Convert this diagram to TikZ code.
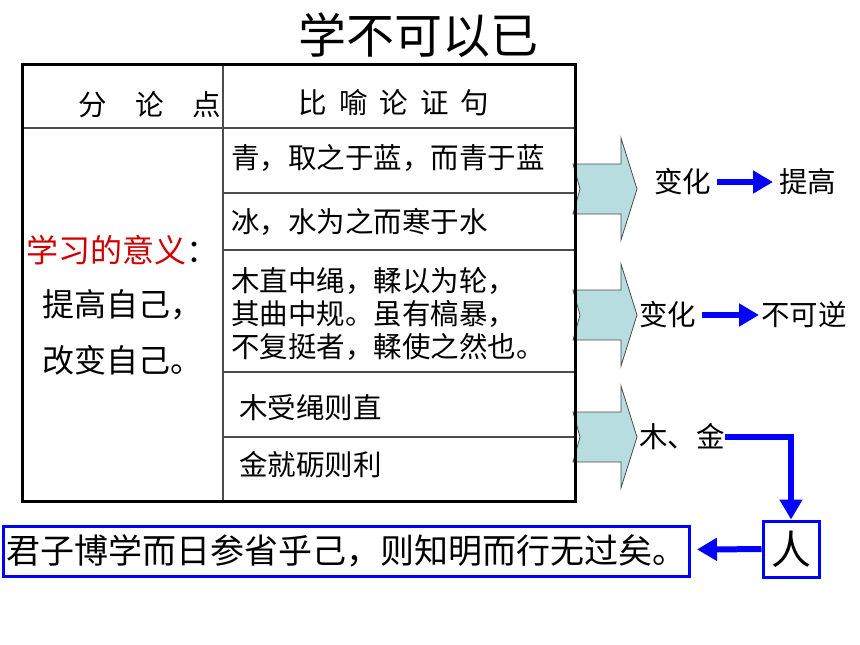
\documentclass[tikz,border=0pt]{standalone}
\usepackage{fontspec}
\setmainfont{Noto Sans CJK SC}
\usetikzlibrary{arrows.meta}
\definecolor{chev}{RGB}{183,221,224}
\definecolor{lred}{RGB}{208,0,0}

\begin{document}
\begin{tikzpicture}[x=1pt,y=-1pt,
    txt/.style={inner sep=0pt,font=\fontsize{28.5}{33}\selectfont},
    big/.style={inner sep=0pt,font=\fontsize{32}{36}\selectfont},
    grid/.style={line width=1.5pt,black!70},
    chevron/.style={draw=black!70,line width=0.8pt,fill=chev},
    bluebox/.style={draw=blue,line width=3pt,inner sep=0pt},
    bluearrow/.style={blue,line width=6pt,-{Triangle[length=20pt,width=22pt]}}]
  \useasboundingbox (0,0) rectangle (860,645);

  \node[inner sep=0pt,font=\fontsize{48}{54}\selectfont] (title) at (418,35) {学不可以已};

  % arrows out of the table
  \foreach \m in {189,315,437}
    \draw[chevron] (573,\m-25) -- (621,\m-25) -- (621,\m-51) -- (637,\m)
      -- (621,\m+51) -- (621,\m+25) -- (573,\m+25) -- (580,\m) -- cycle;

  % the table
  \draw[grid] (223,64) -- (223,501);
  \draw[grid] (22,128) -- (575,128);
  \foreach \y in {193,250,372,437}
    \draw[grid] (223,\y) -- (575,\y);
  \draw[line width=3pt] (22,64) rectangle (575,501);

  \node[txt,anchor=east] (fenlun) at (221,105) {分\hspace{1em}论\hspace{1em}点};
  \node[txt] (biyu) at (394,103) {比\hspace{.42em}喻\hspace{.42em}论\hspace{.42em}证\hspace{.42em}句};

  \node[big,anchor=west] (yiyi) at (26,250) {\textcolor{lred}{学习的意义}：};
  \node[big,anchor=west] (tigao) at (42,305) {提高自己，};
  \node[big,anchor=west] (gaibian) at (42,360) {改变自己。};

  \node[txt,anchor=west] (qing) at (231,158) {青，取之于蓝，而青于蓝};
  \node[txt,anchor=west] (bing) at (231,222) {冰，水为之而寒于水};
  \node[txt,anchor=west,align=left] (muzhi) at (231,314)
    {木直中绳，輮以为轮，\\其曲中规。虽有槁暴，\\不复挺者，輮使之然也。};
  \node[txt,anchor=west] (mushou) at (239,408) {木受绳则直};
  \node[txt,anchor=west] (jinjiu) at (239,465) {金就砺则利};

  % right side
  \node[txt,anchor=west] (bianhua1) at (654,182) {变化};
  \node[txt,anchor=west] (tigao2) at (779,182) {提高};
  \node[txt,anchor=west] (bianhua2) at (639,315) {变化};
  \node[txt,anchor=west] (nini) at (761,315) {不可逆};
  \node[txt,anchor=west] (mujin) at (639,437) {木、金};

  \node[bluebox,minimum size=56pt,font=\fontsize{40}{44}\selectfont] (ren) at (791,549) {人};
  \node[bluebox,minimum width=686pt,minimum height=50pt,font=\fontsize{34}{38}\selectfont]
    (junzi) at (346.5,551) {君子博学而日参省乎己，则知明而行无过矣。};

  \draw[bluearrow,shorten <=6pt,shorten >=6pt] (bianhua1) -- (tigao2);
  \draw[bluearrow,shorten <=6pt,shorten >=2pt] (bianhua2) -- (nini);
  \draw[bluearrow] (mujin.east) -| (ren.north);
  \draw[bluearrow,shorten >=6pt] (ren) -- (junzi);
\end{tikzpicture}
\end{document}
